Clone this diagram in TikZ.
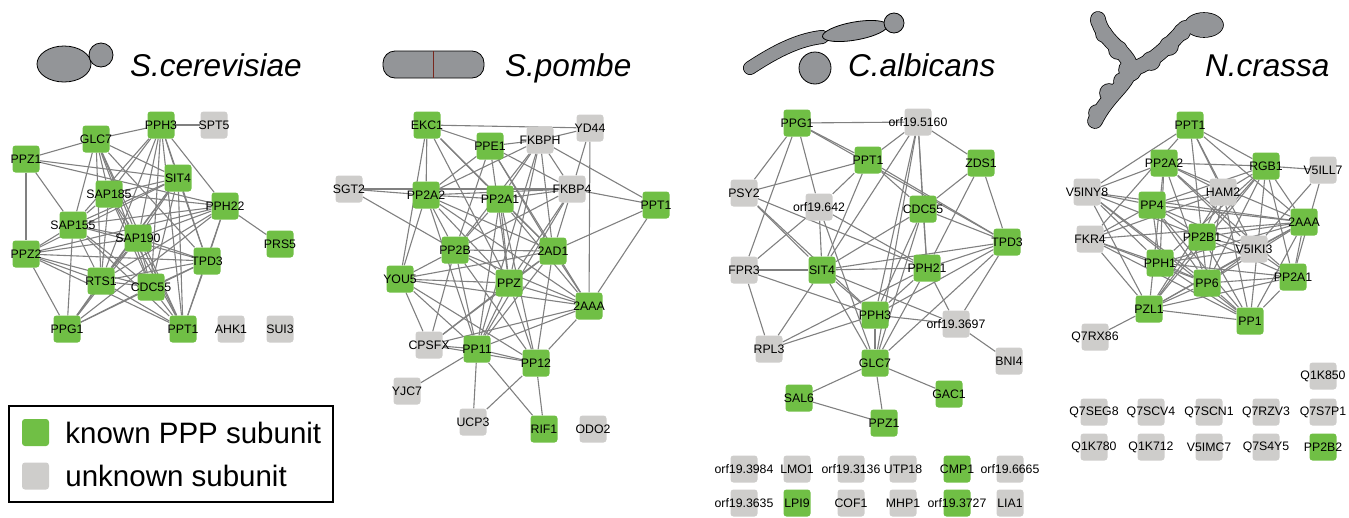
\documentclass[tikz,border=0pt]{standalone}
\usepackage{fontspec}
\setmainfont{Liberation Sans}
\usetikzlibrary{positioning}

\definecolor{pppgreen}{RGB}{112,191,69}
\definecolor{nogray}{RGB}{206,205,203}
\definecolor{linkgray}{RGB}{128,128,128}
\definecolor{cellgray}{RGB}{147,149,152}
\definecolor{septum}{RGB}{120,40,30}
\pgfdeclarelayer{links}
\pgfsetlayers{links,main}

\begin{document}
\begin{tikzpicture}[x=1pt,y=-1pt,
		gene/.style={rectangle,rounded corners=3pt,minimum size=27pt,inner sep=0pt},
		known/.style={gene,fill=pppgreen},
		unknown/.style={gene,fill=nogray},
		every label/.style={font=\fontsize{12.3}{14}\selectfont,inner sep=0pt},
		link/.style={draw=linkgray,line width=1.1pt},
		cell/.style={draw=black,fill=cellgray,line width=0.8pt},
		species/.style={font=\fontsize{31.5}{36}\selectfont\itshape,anchor=base west,inner sep=0pt},
		keytext/.style={font=\fontsize{29.5}{34}\selectfont,anchor=west,inner sep=0pt}]
	\useasboundingbox (0,0) rectangle (1349,517);
	
	% titles and cell shapes
	\draw[cell] (64,64) ellipse [x radius=27pt,y radius=18pt];
	\draw[cell] (101,55) circle [radius=12pt];
	\node[species] (t-sc) at (130,76) {S.cerevisiae};
	
	\draw[cell,rounded corners=12pt] (383,51) rectangle (484,78);
	\draw[septum,line width=0.8pt] (433,51) -- (433,78);
	\node[species] (t-sp) at (505,76) {S.pombe};
	
	\draw[line width=14pt,line cap=round] (750,68) .. controls (770,55) and (795,40) .. (822,37);
	\draw[line width=12.4pt,cellgray,line cap=round] (750,68) .. controls (770,55) and (795,40) .. (822,37);
	\draw[cell,rotate around={10:(855,31)}] (855,31) ellipse [x radius=33pt,y radius=9pt];
	\draw[cell] (894,23) circle [radius=10pt];
	\draw[cell] (815,68) circle [radius=16pt];
	\node[species] (t-ca) at (848,76) {C.albicans};
	
	\foreach \c/\w/\d in {black/15.6/0.8,cellgray/14/0} {
		\draw[\c,line width=\w pt,line cap=round] (1095,121) .. controls (1108,95) and (1126,86) .. (1130,70) .. controls (1134,55) and (1102,42) .. (1098,19);
		\draw[\c,line width=\w pt,line cap=round] (1130,70) .. controls (1150,64) and (1165,50) .. (1185,28);
		\foreach \x/\y/\r in {1097/113/8,1109/93/9,1122/81/8,1130/70/11,1118/50/9,1104/34/8,1098/21/7,1151/61/9,1169/46/9,1182/32/8} {
			\fill[\c] (\x,\y) circle [radius=\r+\d];
		}
		\fill[\c] (1204,25) ellipse [x radius=19+\d,y radius=12+\d];
	}
	\node[species] (t-nc) at (1205,76) {N.crassa};
	
	% S. cerevisiae
	\node[known,label=center:PPH3] (sc-PPH3) at (161,125) {};
	\node[unknown,label=center:SPT5] (sc-SPT5) at (214,125) {};
	\node[known,label=center:GLC7] (sc-GLC7) at (96,139) {};
	\node[known,label=center:PPZ1] (sc-PPZ1) at (26,159) {};
	\node[known,label=center:SIT4] (sc-SIT4) at (178,178) {};
	\node[known,label=center:SAP185] (sc-SAP185) at (109,194) {};
	\node[known,label=center:PPH22] (sc-PPH22) at (225,206) {};
	\node[known,label=center:SAP155] (sc-SAP155) at (73,225) {};
	\node[known,label=center:SAP190] (sc-SAP190) at (138,238) {};
	\node[known,label=center:PRS5] (sc-PRS5) at (280,244) {};
	\node[known,label=center:PPZ2] (sc-PPZ2) at (26,254) {};
	\node[known,label=center:TPD3] (sc-TPD3) at (207,261) {};
	\node[known,label=center:RTS1] (sc-RTS1) at (101,281) {};
	\node[known,label=center:CDC55] (sc-CDC55) at (151,287) {};
	\node[known,label=center:PPG1] (sc-PPG1) at (67,329) {};
	\node[known,label=center:PPT1] (sc-PPT1) at (183,329) {};
	\node[unknown,label=center:AHK1] (sc-AHK1) at (231,329) {};
	\node[unknown,label=center:SUI3] (sc-SUI3) at (280,329) {};
	
	% S. pombe
	\node[known,label=center:EKC1] (sp-EKC1) at (427,125) {};
	\node[unknown,label=center:YD44] (sp-YD44) at (590,128) {};
	\node[known,label=center:PPE1] (sp-PPE1) at (490,146) {};
	\node[unknown,label=center:FKBPH] (sp-FKBPH) at (540,140) {};
	\node[unknown,label=center:SGT2] (sp-SGT2) at (349,189) {};
	\node[known,label=center:PP2A2] (sp-PP2A2) at (426,195) {};
	\node[known,label=center:PP2A1] (sp-PP2A1) at (500,199) {};
	\node[unknown,label=center:FKBP4] (sp-FKBP4) at (572,189) {};
	\node[known,label=center:PPT1] (sp-PPT1) at (656,205) {};
	\node[known,label=center:PP2B] (sp-PP2B) at (455,250) {};
	\node[known,label=center:2AD1] (sp-2AD1) at (553,251) {};
	\node[known,label=center:YOU5] (sp-YOU5) at (400,279) {};
	\node[known,label=center:PPZ] (sp-PPZ) at (509,283) {};
	\node[known,label=center:2AAA] (sp-2AAA) at (589,306) {};
	\node[unknown,label=center:CPSFX] (sp-CPSFX) at (429,345) {};
	\node[known,label=center:PP11] (sp-PP11) at (477,349) {};
	\node[known,label=center:PP12] (sp-PP12) at (536,363) {};
	\node[unknown,label=center:YJC7] (sp-YJC7) at (407,391) {};
	\node[unknown,label=center:UCP3] (sp-UCP3) at (473,422) {};
	\node[known,label=center:RIF1] (sp-RIF1) at (544,429) {};
	\node[unknown,label=center:ODO2] (sp-ODO2) at (593,429) {};
	
	% C. albicans
	\node[known,label=center:PPG1] (ca-PPG1) at (797,123) {};
	\node[unknown,label=center:orf19.5160] (ca-orf5160) at (918,122) {};
	\node[known,label=center:PPT1] (ca-PPT1) at (868,160) {};
	\node[known,label=center:ZDS1] (ca-ZDS1) at (981,163) {};
	\node[unknown,label=center:PSY2] (ca-PSY2) at (744,193) {};
	\node[unknown,label=center:orf19.642] (ca-orf642) at (819,207) {};
	\node[known,label=center:CDC55] (ca-CDC55) at (923,209) {};
	\node[known,label=center:TPD3] (ca-TPD3) at (1007,242) {};
	\node[unknown,label=center:FPR3] (ca-FPR3) at (744,270) {};
	\node[known,label=center:SIT4] (ca-SIT4) at (822,270) {};
	\node[known,label=center:PPH21] (ca-PPH21) at (927,268) {};
	\node[known,label=center:PPH3] (ca-PPH3) at (875,315) {};
	\node[unknown,label=center:orf19.3697] (ca-orf3697) at (956,324) {};
	\node[unknown,label=center:RPL3] (ca-RPL3) at (769,349) {};
	\node[known,label=center:GLC7] (ca-GLC7) at (875,363) {};
	\node[unknown,label=center:BNI4] (ca-BNI4) at (1009,361) {};
	\node[known,label=center:SAL6] (ca-SAL6) at (799,398) {};
	\node[known,label=center:GAC1] (ca-GAC1) at (949,394) {};
	\node[known,label=center:PPZ1] (ca-PPZ1) at (884,423) {};
	\node[unknown,label=center:orf19.3984] (ca-orf3984) at (744,469) {};
	\node[unknown,label=center:LMO1] (ca-LMO1) at (797,469) {};
	\node[unknown,label=center:orf19.3136] (ca-orf3136) at (851,469) {};
	\node[unknown,label=center:UTP18] (ca-UTP18) at (903,469) {};
	\node[known,label=center:CMP1] (ca-CMP1) at (957,469) {};
	\node[unknown,label=center:orf19.6665] (ca-orf6665) at (1010,469) {};
	\node[unknown,label=center:orf19.3635] (ca-orf3635) at (744,503) {};
	\node[known,label=center:LPI9] (ca-LPI9) at (797,503) {};
	\node[unknown,label=center:COF1] (ca-COF1) at (851,503) {};
	\node[unknown,label=center:MHP1] (ca-MHP1) at (903,503) {};
	\node[known,label=center:orf19.3727] (ca-orf3727) at (957,503) {};
	\node[unknown,label=center:LIA1] (ca-LIA1) at (1010,503) {};
	
	% N. crassa
	\node[known,label=center:PPT1] (nc-PPT1) at (1190,125) {};
	\node[known,label=center:PP2A2] (nc-PP2A2) at (1164,163) {};
	\node[known,label=center:RGB1] (nc-RGB1) at (1266,166) {};
	\node[unknown,label=center:V5ILL7] (nc-V5ILL7) at (1323,170) {};
	\node[unknown,label=center:V5INY8] (nc-V5INY8) at (1087,192) {};
	\node[unknown,label=center:HAM2] (nc-HAM2) at (1223,192) {};
	\node[known,label=center:PP4] (nc-PP4) at (1152,205) {};
	\node[known,label=center:2AAA] (nc-2AAA) at (1304,222) {};
	\node[unknown,label=center:FKR4] (nc-FKR4) at (1090,239) {};
	\node[known,label=center:PP2B1] (nc-PP2B1) at (1202,237) {};
	\node[unknown,label=center:V5IKI3] (nc-V5IKI3) at (1254,249) {};
	\node[known,label=center:PPH1] (nc-PPH1) at (1160,263) {};
	\node[known,label=center:PP2A1] (nc-PP2A1) at (1293,277) {};
	\node[known,label=center:PP6] (nc-PP6) at (1207,283) {};
	\node[known,label=center:PZL1] (nc-PZL1) at (1149,309) {};
	\node[known,label=center:PP1] (nc-PP1) at (1250,321) {};
	\node[unknown,label=center:Q7RX86] (nc-Q7RX86) at (1095,337) {};
	\node[unknown,label=center:Q1K850] (nc-Q1K850) at (1323,376) {};
	\node[unknown,label=center:Q7SEG8] (nc-Q7SEG8) at (1094,412) {};
	\node[unknown,label=center:Q7SCV4] (nc-Q7SCV4) at (1151,412) {};
	\node[unknown,label=center:Q7SCN1] (nc-Q7SCN1) at (1209,412) {};
	\node[unknown,label=center:Q7RZV3] (nc-Q7RZV3) at (1266,412) {};
	\node[unknown,label=center:Q7S7P1] (nc-Q7S7P1) at (1323,412) {};
	\node[unknown,label=center:Q1K780] (nc-Q1K780) at (1094,447) {};
	\node[unknown,label=center:Q1K712] (nc-Q1K712) at (1151,447) {};
	\node[unknown,label=center:V5IMC7] (nc-V5IMC7) at (1209,447) {};
	\node[unknown,label=center:Q7S4Y5] (nc-Q7S4Y5) at (1266,447) {};
	\node[known,label=center:PP2B2] (nc-PP2B2) at (1323,447) {};
	
	% legend
	\draw[line width=1.8pt] (9,406) rectangle (333,502);
	\node[known] (key-known) at (35.5,432.5) {};
	\node[unknown] (key-unknown) at (35.5,476) {};
	\node[keytext,right=16pt of key-known] {known PPP subunit};
	\node[keytext,right=16pt of key-unknown] {unknown subunit};
	
	\begin{pgfonlayer}{links}
	\path[link]
	(sc-PPH3) edge (sc-SPT5) edge (sc-GLC7) edge (sc-SAP185) edge (sc-SAP155) edge (sc-SIT4) edge (sc-SAP190) edge (sc-CDC55) edge (sc-RTS1) edge (sc-TPD3) edge (sc-PPH22) edge (sc-PPT1)
	(sc-GLC7) edge (sc-PPZ1) edge (sc-SAP185) edge (sc-SAP155) edge (sc-SAP190) edge (sc-CDC55) edge (sc-RTS1) edge (sc-TPD3) edge (sc-SIT4) edge (sc-PPT1)
	(sc-PPZ1) edge (sc-PPZ2) edge (sc-SAP155) edge (sc-SIT4) edge (sc-PPH22)
	(sc-SIT4) edge (sc-SAP185) edge (sc-SAP155) edge (sc-SAP190) edge (sc-CDC55) edge (sc-RTS1) edge (sc-TPD3) edge (sc-PPT1) edge (sc-PPZ2) edge (sc-PPG1)
	(sc-SAP185) edge (sc-PPH22) edge (sc-SAP155) edge (sc-SAP190) edge (sc-CDC55) edge (sc-RTS1) edge (sc-PPT1)
	(sc-PPH22) edge (sc-SAP155) edge (sc-SAP190) edge (sc-TPD3) edge (sc-RTS1) edge (sc-PRS5) edge (sc-PPZ2) edge (sc-PPT1) edge (sc-PPG1)
	(sc-SAP155) edge (sc-PPZ2) edge (sc-PPG1) edge (sc-RTS1) edge (sc-CDC55) edge (sc-TPD3) edge (sc-SAP190) edge (sc-PPT1)
	(sc-SAP190) edge (sc-TPD3) edge (sc-CDC55) edge (sc-RTS1) edge (sc-PPZ2) edge (sc-PPT1) edge (sc-PPG1)
	(sc-PPZ2) edge (sc-RTS1) edge (sc-CDC55) edge (sc-TPD3) edge (sc-PPT1) edge (sc-PPG1)
	(sc-TPD3) edge (sc-CDC55) edge (sc-RTS1) edge (sc-PPG1) edge (sc-PPT1)
	(sc-RTS1) edge (sc-PPG1) edge (sc-CDC55) edge (sc-PPT1)
	(sc-CDC55) edge (sc-PPG1) edge (sc-PPT1);
	
	\path[link]
	(sp-EKC1) edge (sp-YD44) edge (sp-PPE1) edge (sp-PP2A2) edge (sp-YOU5) edge (sp-PP2A1) edge (sp-2AD1) edge (sp-PPZ)
	(sp-FKBPH) edge (sp-YD44) edge (sp-PPE1) edge (sp-PP2A2) edge (sp-PP2B) edge (sp-PP2A1) edge (sp-FKBP4) edge (sp-PPT1) edge (sp-2AD1) edge (sp-PPZ) edge (sp-PP11)
	(sp-YD44) edge (sp-FKBP4) edge (sp-2AAA)
	(sp-PPE1) edge (sp-PP2A2) edge (sp-FKBP4) edge (sp-PP2B) edge (sp-PPZ) edge (sp-2AD1) edge (sp-2AAA)
	(sp-SGT2) edge (sp-PP2A2) edge (sp-FKBP4) edge (sp-PP2B)
	(sp-PP2A2) edge (sp-PP2A1) edge (sp-FKBP4) edge (sp-PP2B) edge (sp-2AD1) edge (sp-YOU5) edge (sp-2AAA) edge (sp-PPZ) edge (sp-PP11)
	(sp-PP2A1) edge (sp-FKBP4) edge (sp-PP2B) edge (sp-2AD1) edge (sp-PPZ) edge (sp-2AAA) edge (sp-PP11) edge (sp-PP12)
	(sp-FKBP4) edge (sp-PPT1) edge (sp-PP2B) edge (sp-PPZ) edge (sp-2AD1) edge (sp-PP11)
	(sp-PPT1) edge (sp-2AD1) edge (sp-2AAA)
	(sp-PP2B) edge (sp-2AD1) edge (sp-YOU5) edge (sp-PPZ) edge (sp-PP11) edge (sp-PP12) edge (sp-2AAA) edge (sp-CPSFX)
	(sp-2AD1) edge (sp-YOU5) edge (sp-PPZ) edge (sp-2AAA) edge (sp-PP11) edge (sp-PP12) edge (sp-CPSFX)
	(sp-YOU5) edge (sp-PPZ) edge (sp-2AAA) edge (sp-CPSFX) edge (sp-PP11) edge (sp-PP12)
	(sp-PPZ) edge (sp-2AAA) edge (sp-PP11) edge (sp-PP12) edge (sp-CPSFX)
	(sp-2AAA) edge (sp-PP11) edge (sp-PP12) edge (sp-CPSFX)
	(sp-CPSFX) edge (sp-PP11) edge (sp-PP12)
	(sp-PP11) edge (sp-PP12) edge (sp-YJC7) edge (sp-UCP3) edge (sp-RIF1)
	(sp-PP12) edge (sp-UCP3) edge (sp-RIF1);
	
	\path[link]
	(ca-PPG1) edge (ca-orf5160) edge (ca-PPT1) edge (ca-TPD3) edge (ca-PSY2) edge (ca-orf642) edge (ca-FPR3)
	(ca-orf5160) edge (ca-PPT1) edge (ca-ZDS1) edge (ca-CDC55) edge (ca-SIT4) edge (ca-PPH21) edge (ca-PPH3) edge (ca-GLC7)
	(ca-PPT1) edge (ca-PSY2) edge (ca-orf642) edge (ca-CDC55) edge (ca-TPD3) edge (ca-SIT4)
	(ca-ZDS1) edge (ca-CDC55) edge (ca-TPD3) edge (ca-PPH21)
	(ca-PSY2) edge (ca-SIT4) edge (ca-PPH21) edge (ca-PPH3)
	(ca-orf642) edge (ca-FPR3) edge (ca-SIT4) edge (ca-PPH21) edge (ca-GLC7)
	(ca-CDC55) edge (ca-SIT4) edge (ca-TPD3) edge (ca-PPH21) edge (ca-PPH3) edge (ca-GLC7)
	(ca-TPD3) edge (ca-SIT4) edge (ca-PPH21) edge (ca-PPH3) edge (ca-GLC7) edge (ca-orf3697)
	(ca-FPR3) edge (ca-SIT4) edge (ca-RPL3) edge (ca-PPH3)
	(ca-SIT4) edge (ca-PPH21) edge (ca-PPH3) edge (ca-GLC7) edge (ca-RPL3) edge (ca-orf3697)
	(ca-PPH21) edge (ca-PPH3) edge (ca-GLC7) edge (ca-RPL3) edge (ca-orf3697)
	(ca-PPH3) edge (ca-GLC7) edge (ca-RPL3) edge (ca-orf3697)
	(ca-orf3697) edge (ca-BNI4)
	(ca-GLC7) edge (ca-SAL6) edge (ca-GAC1) edge (ca-PPZ1)
	(ca-SAL6) edge (ca-PPZ1);
	
	\path[link]
	(nc-PPT1) edge (nc-V5INY8) edge (nc-FKR4) edge (nc-RGB1) edge (nc-HAM2) edge (nc-2AAA) edge (nc-V5IKI3) edge (nc-PP2B1)
	(nc-PP2A2) edge (nc-RGB1) edge (nc-V5INY8) edge (nc-PPH1) edge (nc-PZL1) edge (nc-2AAA) edge (nc-V5IKI3) edge (nc-PP2A1) edge (nc-PP6) edge (nc-HAM2)
	(nc-RGB1) edge (nc-V5ILL7) edge (nc-PP4) edge (nc-HAM2) edge (nc-2AAA) edge (nc-PP2A1) edge (nc-PP2B1) edge (nc-PPH1) edge (nc-PP6) edge (nc-PZL1) edge (nc-PP1)
	(nc-V5ILL7) edge (nc-V5IKI3) edge (nc-PP2A1)
	(nc-V5INY8) edge (nc-PP4) edge (nc-2AAA) edge (nc-PP2B1) edge (nc-PPH1) edge (nc-PP6) edge (nc-PZL1) edge (nc-PP1)
	(nc-HAM2) edge (nc-PP4) edge (nc-PP2B1) edge (nc-PP1) edge (nc-PP6) edge (nc-PZL1) edge (nc-FKR4)
	(nc-PP4) edge (nc-2AAA) edge (nc-PP2B1) edge (nc-V5IKI3) edge (nc-PPH1) edge (nc-PP6) edge (nc-PP1) edge (nc-FKR4)
	(nc-FKR4) edge (nc-2AAA) edge (nc-PPH1) edge (nc-PP6) edge (nc-PZL1) edge (nc-PP1)
	(nc-PP2B1) edge (nc-V5IKI3) edge (nc-PP2A1) edge (nc-PP6) edge (nc-PZL1) edge (nc-2AAA) edge (nc-PP1)
	(nc-V5IKI3) edge (nc-2AAA) edge (nc-PPH1) edge (nc-PP6) edge (nc-PZL1) edge (nc-PP2A1)
	(nc-PPH1) edge (nc-2AAA) edge (nc-PP2A1) edge (nc-PP6) edge (nc-PP1)
	(nc-2AAA) edge (nc-PP6) edge (nc-PP2A1) edge (nc-PZL1) edge (nc-PP1)
	(nc-PP2A1) edge (nc-PP6) edge (nc-PZL1) edge (nc-PP1)
	(nc-PP6) edge (nc-PZL1) edge (nc-PP1)
	(nc-PZL1) edge (nc-PP1) edge (nc-Q7RX86);
	\end{pgfonlayer}
\end{tikzpicture}
\end{document}
